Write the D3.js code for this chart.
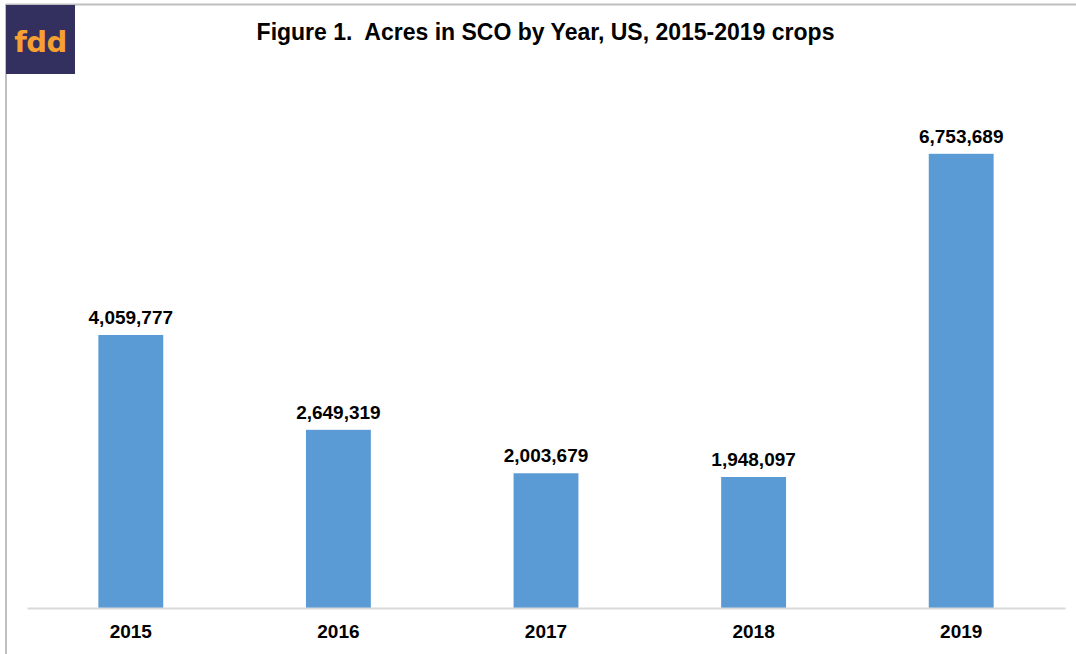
<!DOCTYPE html>
<html>
<head>
<meta charset="utf-8">
<script src="https://cdn.jsdelivr.net/npm/d3@7"></script>
<style>
  html, body { margin: 0; padding: 0; background: #fff; }
  svg { display: block; }
</style>
</head>
<body>
<svg id="chart" width="1076" height="654"></svg>
<script>
// Crop years and enrolled SCO acres
const years = ["2015", "2016", "2017", "2018", "2019"];
const acres = [4059777, 2649319, 2003679, 1948097, 6753689];
const yTicks = [0, 8000000];

const W = 1076, H = 654;
const margin = { top: 70, right: 11, bottom: 46, left: 27 };
const svg = d3.select("#chart");
const FONT = "'Liberation Sans', Arial, sans-serif";

// Outer frame (top and left edges)
svg.append("line").attr("x1", 6).attr("x2", W).attr("y1", 4.5).attr("y2", 4.5)
  .attr("stroke", "#bfbfbf").attr("stroke-width", 2);
svg.append("line").attr("x1", 6).attr("x2", 6).attr("y1", 4).attr("y2", H)
  .attr("stroke", "#bfbfbf").attr("stroke-width", 2);

// Logo badge
svg.append("rect").attr("x", 6).attr("y", 5).attr("width", 69).attr("height", 69)
  .attr("fill", "#332f5e");
svg.append("text").attr("x", 40.5).attr("y", 52)
  .attr("text-anchor", "middle")
  .attr("font-family", "'DejaVu Sans', sans-serif").attr("font-weight", "bold")
  .attr("font-size", 29).attr("fill", "#f5a031")
  .attr("letter-spacing", -0.5)
  .text("fdd");

// Title
svg.append("text").attr("x", 545.5).attr("y", 40)
  .attr("text-anchor", "middle")
  .attr("font-family", FONT).attr("font-weight", "bold")
  .attr("font-size", 23).attr("fill", "#000")
  .attr("xml:space", "preserve")
  .text("Figure 1.  Acres in SCO by Year, US, 2015-2019 crops");

const x = d3.scaleBand()
  .domain(years)
  .range([margin.left, W - margin.right])
  .paddingInner(0.6875)
  .paddingOuter(0.34375);

const y = d3.scaleLinear()
  .domain([yTicks[0], yTicks[1]])
  .range([H - margin.bottom, margin.top]);

const data = years.map((yr, i) => ({ year: yr, value: acres[i] }));

// Bars
svg.append("g").selectAll("rect").data(data).join("rect")
  .attr("x", d => x(d.year))
  .attr("y", d => y(d.value))
  .attr("width", x.bandwidth())
  .attr("height", d => y(0) - y(d.value))
  .attr("fill", "#5b9bd5");

// Value labels
const fmt = d3.format(",");
svg.append("g").selectAll("text").data(data).join("text")
  .attr("x", d => x(d.year) + x.bandwidth() / 2)
  .attr("y", d => y(d.value) - 11)
  .attr("text-anchor", "middle")
  .attr("font-family", FONT).attr("font-weight", "bold")
  .attr("font-size", 19).attr("fill", "#000")
  .text(d => fmt(d.value));

// Category axis
const xAxis = svg.append("g")
  .attr("transform", `translate(0,${y(0)})`)
  .call(d3.axisBottom(x).tickSize(0).tickPadding(17));
xAxis.select(".domain").attr("stroke", "#d9d9d9").attr("stroke-width", 2);
xAxis.selectAll("text")
  .attr("font-family", FONT).attr("font-weight", "bold")
  .attr("font-size", 19).attr("fill", "#000");
</script>
</body>
</html>
